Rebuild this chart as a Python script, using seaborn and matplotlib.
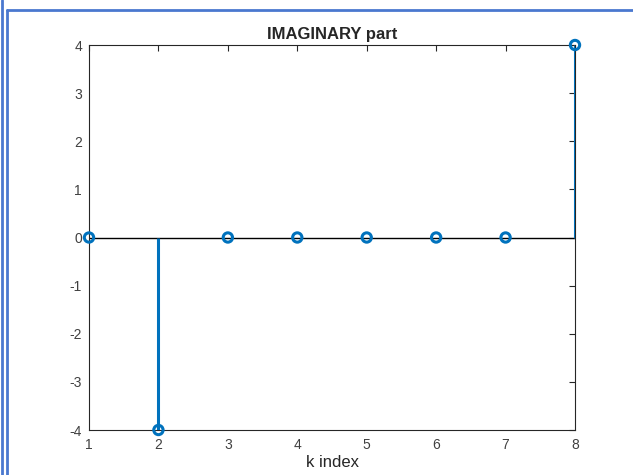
import numpy as np
import pandas as pd
import seaborn as sns
import matplotlib
matplotlib.use("Agg")
import matplotlib.pyplot as plt
from matplotlib.lines import Line2D

# DFT imaginary part, indexed from k = 1
k_index = [1, 2, 3, 4, 5, 6, 7, 8]
imag_part = [0, -4, 0, 0, 0, 0, 0, 4]
x_ticks = [1, 2, 3, 4, 5, 6, 7, 8]
y_ticks = [-4, -3, -2, -1, 0, 1, 2, 3, 4]

df = pd.DataFrame({"k": k_index, "imag": imag_part})

sns.set_style("white")
plt.rcParams["font.family"] = ["Liberation Sans", "DejaVu Sans"]
plt.rcParams["axes.unicode_minus"] = False

W, H = 633, 475
fig = plt.figure(figsize=(W / 100, H / 100), dpi=100)
ax = fig.add_axes([89 / W, 1 - 430 / H, (575 - 89) / W, (430 - 45) / H])

stem_color = "#0072BD"
axis_color = "#262626"

# baseline and stems
ax.plot([min(k_index), max(k_index)], [0, 0], color="black", lw=1.0, zorder=2)
ax.vlines(df["k"], 0, df["imag"], color=stem_color, lw=2.2, zorder=3)
sns.scatterplot(data=df, x="k", y="imag", ax=ax, marker="o", s=45,
                facecolor="none", edgecolor=stem_color, linewidth=2.2,
                zorder=4, clip_on=False)

ax.set_xlim(1, 8)
ax.set_ylim(-4, 4)
ax.set_xticks(x_ticks)
ax.set_yticks(y_ticks)
ax.tick_params(direction="in", length=4, width=0.8, colors=axis_color,
               labelsize=10, top=True, right=True, labelcolor="#404040")
ax.tick_params(axis="x", pad=6)
ax.tick_params(axis="y", pad=5)
for sp in ax.spines.values():
    sp.set_color(axis_color)
    sp.set_linewidth(0.8)

ax.set_title("IMAGINARY part", fontsize=12, fontweight="bold", pad=4)
ax.set_xlabel("k index", fontsize=12, color="#262626", labelpad=2)
ax.set_ylabel("")

# window frame lines
frame = "#4a78cf"
fig.add_artist(Line2D([1.5 / W, 1.5 / W], [0, 1], color=frame, lw=2))
fig.add_artist(Line2D([6.5 / W, 6.5 / W], [0, 1 - 10 / H], color=frame, lw=2))
fig.add_artist(Line2D([6.5 / W, 1], [1 - 10 / H, 1 - 10 / H], color=frame, lw=2))

fig.savefig("out.png", dpi=100)
